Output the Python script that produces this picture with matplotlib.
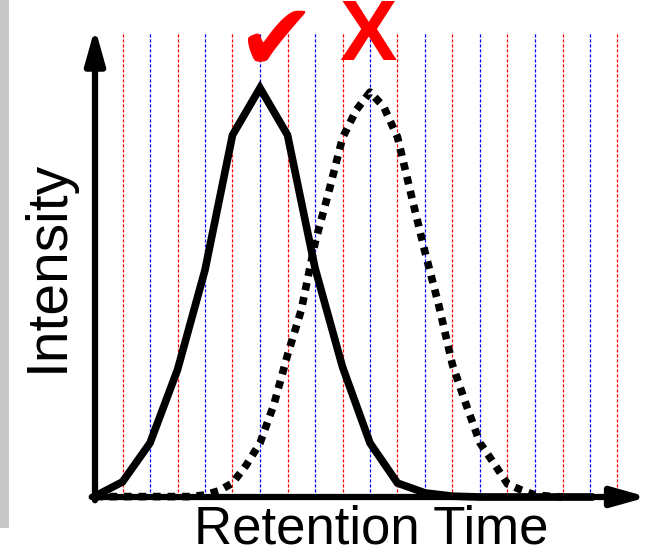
import matplotlib.pyplot as plt
from matplotlib.patches import Rectangle

# retention time in grid steps, intensity in % of peak
rt_solid = [0, 1, 2, 3, 4, 5, 6, 7, 8, 9, 10, 11, 12, 13, 14, 15, 16, 17, 18]
int_solid = [0.2, 3.7, 13.2, 31.1, 55.5, 88.5, 100, 88.5, 56.0, 31.8, 13.2, 3.4,
             1.0, 0.2, 0, 0, 0, 0, 0]

rt_dotted = [0, 0.5, 1, 1.5, 2, 2.5, 3, 3.5, 4, 4.5, 5, 5.5, 6, 6.5, 7, 7.5, 8, 8.5,
             9, 9.5, 10, 10.5, 11, 11.5, 12, 12.5, 13, 13.5, 14, 14.5, 15, 15.5,
             16, 16.5, 17]
int_dotted = [0.1, 0.1, 0.1, 0.1, 0.1, 0.1, 0.1, 0.1, 0.5, 1.5, 3.4, 7.8, 13.2, 22.5,
              34.7, 45.7, 62.1, 74.6, 87.8, 94.6, 99.0, 95.4, 88.0, 73.8, 59.9,
              46.9, 32.3, 22.5, 13.2, 8.3, 3.2, 1.7, 0.5, 0.2, 0]

scan_lines = [1, 2, 3, 4, 5, 6, 7, 8, 9, 10, 11, 12, 13, 14, 15, 16, 17, 18, 19]

W, H = 652, 555
fig = plt.figure(figsize=(W / 100, H / 100), dpi=100)
fig.add_artist(Rectangle((0, (H - 528) / H), 9 / W, 528 / H,
                         transform=fig.transFigure, color='#c8c8c8', lw=0))

ax = fig.add_axes([95 / W, (H - 497) / H, (650 - 95) / W, (497 - 25) / H])
ax.set_xlim(0, 555 / 27.5)
ax.set_ylim(0, 472 / 4.09)
ax.axis('off')

for k in scan_lines:
    c = 'red' if k % 2 == 1 else 'blue'
    ax.plot([k, k], [0, 113.4], color=c, lw=0.9, ls=(0, (2.5, 1.5)), zorder=1)

ax.plot(rt_solid, int_solid, color='black', lw=5.5, solid_joinstyle='miter',
        zorder=3, clip_on=False)
ax.plot(rt_dotted, int_dotted, color='black', lw=5.5, ls=(0, (1, 0.9)),
        dash_capstyle='butt', zorder=3, clip_on=False)

arrow = dict(arrowstyle='-|>,head_length=1.5,head_width=0.42', color='black',
             lw=4.5, mutation_scale=14, shrinkA=0, shrinkB=0)
ax.annotate('', xy=(20.1, 0), xytext=(-0.12, 0), arrowprops=arrow,
            annotation_clip=False, zorder=4)
ax.annotate('', xy=(0, 114.7), xytext=(0, -0.8), arrowprops=arrow,
            annotation_clip=False, zorder=4)

fig.text(371 / W, 1 - 544 / H, 'Retention Time', fontsize=38,
         family='Liberation Sans', ha='center', va='baseline')
fig.text(48 / W, 1 - 266 / H, 'Intensity', fontsize=41, rotation=90,
         family='Liberation Sans', ha='center', va='center')

fig.text(276 / W, 1 - 44 / H, '\u2714', fontsize=68, color='red',
         family='DejaVu Sans', ha='center', va='center')
fig.text(368 / W, 1 - 38 / H, 'X', fontsize=62, color='red', weight='bold',
         family='Liberation Sans', ha='center', va='center')

fig.savefig('out.png', dpi=100)
